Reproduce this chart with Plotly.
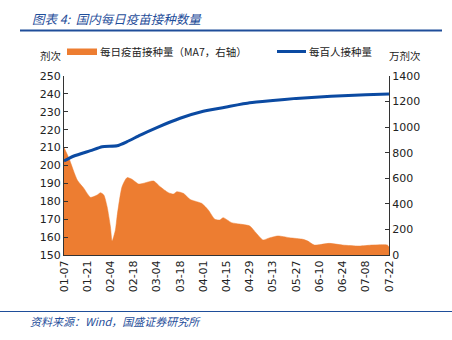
import plotly.graph_objects as go

# Daily vaccinations, 7-day moving average (10k doses, right axis)
daily_dates = [
    "2022-01-07", "2022-01-10", "2022-01-15", "2022-01-19", "2022-01-23", "2022-01-27",
    "2022-01-29", "2022-01-31", "2022-02-02", "2022-02-04", "2022-02-05", "2022-02-07",
    "2022-02-08", "2022-02-11", "2022-02-14", "2022-02-17", "2022-02-21", "2022-02-24",
    "2022-03-02", "2022-03-06", "2022-03-11", "2022-03-14", "2022-03-16", "2022-03-20",
    "2022-03-24", "2022-03-28", "2022-03-31", "2022-04-04", "2022-04-08", "2022-04-11",
    "2022-04-13", "2022-04-18", "2022-04-23", "2022-04-29", "2022-05-03", "2022-05-07",
    "2022-05-10", "2022-05-16", "2022-05-23", "2022-05-31", "2022-06-03", "2022-06-07",
    "2022-06-16", "2022-06-24", "2022-07-04", "2022-07-12", "2022-07-21", "2022-07-22",
]
daily_ma7 = [
    840, 756, 586, 521, 451, 469,
    487, 469, 378, 221, 109, 196,
    300, 534, 605, 592, 555, 561,
    579, 534, 487, 477, 495, 482,
    435, 417, 404, 352, 279, 274,
    292, 253, 242, 227, 170, 117,
    130, 149, 135, 123, 109, 78,
    91, 78, 70, 78, 78, 62,
]

# Cumulative doses per hundred people (left axis)
per100_dates = [
    "2022-01-07", "2022-01-13", "2022-01-23", "2022-01-30", "2022-02-08", "2022-02-14",
    "2022-02-22", "2022-03-04", "2022-03-18", "2022-04-01", "2022-04-15", "2022-04-29",
    "2022-05-13", "2022-05-27", "2022-06-10", "2022-06-24", "2022-07-08", "2022-07-22",
]
per100 = [
    202.5, 205.3, 208.3, 210.5, 211.0, 213.3,
    217.0, 221.2, 226.4, 230.3, 232.7, 235.0,
    236.3, 237.5, 238.3, 239.0, 239.5, 240.0,
]

tick_dates = [
    "2022-01-07", "2022-01-21", "2022-02-04", "2022-02-18", "2022-03-04", "2022-03-18",
    "2022-04-01", "2022-04-15", "2022-04-29", "2022-05-13", "2022-05-27", "2022-06-10",
    "2022-06-24", "2022-07-08", "2022-07-22",
]
tick_labels = [d[5:] for d in tick_dates]

ORANGE = "#ED7D31"
BLUE = "#0B4AA2"
TEXT_BLUE = "#1F4E9A"
CJK = "Noto Sans CJK SC"
NUM = "DejaVu Sans"

W, H = 452, 340
L, R, T, B = 64, 389, 76, 255  # plot box in pixels


def px(x):
    return (x - L) / (R - L)


def py(y):
    return (B - y) / (B - T)


fig = go.Figure()
fig.add_trace(go.Scatter(
    x=daily_dates, y=daily_ma7, yaxis="y", mode="lines",
    line=dict(color=ORANGE, width=0.5, shape="spline", smoothing=0.6),
    fill="tozeroy", fillcolor=ORANGE, showlegend=False, hoverinfo="skip",
))
fig.add_trace(go.Scatter(
    x=per100_dates, y=per100, yaxis="y2", mode="lines",
    line=dict(color=BLUE, width=3, shape="spline", smoothing=0.5),
    showlegend=False, hoverinfo="skip",
))

axis_font = dict(family=NUM, size=11, color="#222222")

fig.update_layout(
    width=W, height=H,
    margin=dict(l=L, r=W - R, t=T, b=H - B),
    paper_bgcolor="white", plot_bgcolor="white",
    xaxis=dict(
        type="date", range=["2022-01-07", "2022-07-22"],
        tickmode="array", tickvals=tick_dates, ticktext=tick_labels,
        tickangle=-90, tickfont=axis_font, showgrid=False, zeroline=False,
        showline=True, linecolor="#333333", linewidth=1, ticks="",
    ),
    yaxis=dict(
        side="right", range=[0, 1400], dtick=200, tickfont=axis_font,
        showgrid=False, zeroline=False, showline=True, linecolor="#333333",
        linewidth=1, ticks="inside", ticklen=4, tickcolor="#333333",
    ),
    yaxis2=dict(
        side="left", overlaying="y", range=[150, 250], dtick=10, tickfont=axis_font,
        showgrid=False, zeroline=False, showline=True, linecolor="#333333",
        linewidth=1, ticks="inside", ticklen=4, tickcolor="#333333",
    ),
    shapes=[
        # rule under the title
        dict(type="line", xref="paper", yref="paper", x0=px(20), x1=px(442),
             y0=py(30.5), y1=py(30.5), line=dict(color=TEXT_BLUE, width=2)),
        # rule above the source note
        dict(type="line", xref="paper", yref="paper", x0=px(0), x1=px(452),
             y0=py(311.5), y1=py(311.5), line=dict(color=TEXT_BLUE, width=1)),
        # legend swatches
        dict(type="rect", xref="paper", yref="paper", x0=px(67), x1=px(97),
             y0=py(55), y1=py(48.5), fillcolor=ORANGE, line=dict(width=0)),
        dict(type="line", xref="paper", yref="paper", x0=px(277), x1=px(306),
             y0=py(51.5), y1=py(51.5), line=dict(color=BLUE, width=3)),
    ],
    annotations=[
        dict(text="<i>图表 4:  国内每日疫苗接种数量</i>", xref="paper", yref="paper",
             x=px(30), y=py(18), xanchor="left", yanchor="middle", showarrow=False,
             font=dict(family=CJK, size=12.5, color=TEXT_BLUE)),
        dict(text="剂次", xref="paper", yref="paper", x=px(38), y=py(55),
             xanchor="left", yanchor="middle", showarrow=False,
             font=dict(family=CJK, size=10.5, color="#222222")),
        dict(text="万剂次", xref="paper", yref="paper", x=px(387), y=py(55),
             xanchor="left", yanchor="middle", showarrow=False,
             font=dict(family=CJK, size=10.5, color="#222222")),
        dict(text="每日疫苗接种量（MA7，右轴）", xref="paper", yref="paper",
             x=px(98), y=py(52), xanchor="left", yanchor="middle", showarrow=False,
             font=dict(family=CJK, size=10.5, color="#222222")),
        dict(text="每百人接种量", xref="paper", yref="paper", x=px(307), y=py(52),
             xanchor="left", yanchor="middle", showarrow=False,
             font=dict(family=CJK, size=10.5, color="#222222")),
        dict(text="<i>资料来源：Wind，国盛证券研究所</i>", xref="paper", yref="paper",
             x=px(28), y=py(321), xanchor="left", yanchor="middle", showarrow=False,
             font=dict(family=CJK, size=11, color=TEXT_BLUE)),
    ],
)

fig.write_html("out.html")
